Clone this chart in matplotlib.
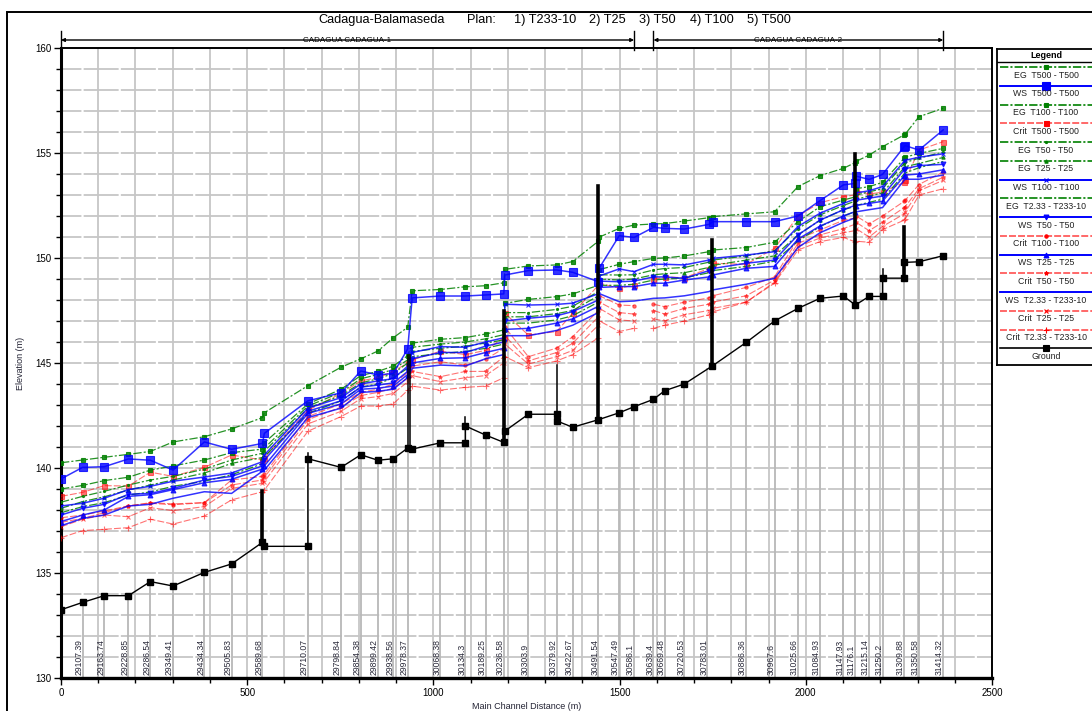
import numpy as np
import matplotlib
matplotlib.use("Agg")
import matplotlib.pyplot as plt
from matplotlib.patches import Rectangle
import matplotlib.transforms as mtransforms

plt.rcParams['font.family'] = ['Liberation Sans', 'DejaVu Sans']
plt.rcParams['lines.scale_dashes'] = False

W, H = 1092, 711

title_parts = ['Cadagua-Balamaseda', 'Plan:', '1) T233-10', '2) T25', '3) T50', '4) T100', '5) T500']
reach_names = ['CADAGUA CADAGUA-1', 'CADAGUA CADAGUA-2']
reach_start = [0, 1591]
reach_end = [1539, 2369]

# main channel distance (m) of every computed point, reach 1 then reach 2
dist = [0, 58, 116, 181, 240, 301, 385, 458, 541, 546, 663, 752, 805, 851, 892, 931, 943,
        1019, 1086, 1140, 1189, 1192, 1255, 1331, 1374, 1443, 1446, 1499, 1539,
        1591, 1621, 1674, 1740, 1750, 1840, 1916, 1979, 2038, 2101, 2131, 2135, 2170, 2206,
        2264, 2267, 2304, 2369]
reach = [1] * 29 + [2] * 18

eg_t500 = [140.25, 140.38, 140.51, 140.65, 140.79, 141.24, 141.49, 141.86, 142.40, 142.63, 143.92, 144.80, 145.20, 145.57, 146.20, 146.70, 148.44,
           148.50, 148.63, 148.68, 148.82, 149.46, 149.62, 149.67, 149.83, 150.80, 151.00, 151.41, 151.57,
           151.62, 151.64, 151.76, 151.92, 151.97, 152.10, 152.20, 153.40, 153.92, 154.27, 154.53, 154.60, 154.90, 155.30, 155.86, 155.90, 156.73, 157.13]
ws_t500 = [139.48, 140.03, 140.06, 140.43, 140.37, 139.90, 141.24, 140.89, 141.17, 141.65, 143.20, 143.58, 144.62, 144.43, 144.50, 145.67, 148.10,
           148.19, 148.19, 148.24, 148.29, 149.19, 149.40, 149.43, 149.32, 148.87, 149.54, 151.06, 150.98,
           151.46, 151.41, 151.38, 151.60, 151.73, 151.73, 151.73, 152.00, 152.73, 153.48, 153.55, 153.90, 153.74, 153.98, 155.30, 155.35, 155.14, 156.10]
eg_t100 = [139.00, 139.17, 139.40, 139.56, 139.90, 140.10, 140.38, 140.73, 140.90, 141.20, 143.05, 143.75, 144.40, 144.60, 144.85, 145.35, 145.95,
           146.13, 146.21, 146.38, 146.57, 147.84, 148.03, 148.16, 148.29, 148.70, 149.45, 149.70, 149.83,
           149.98, 150.00, 150.10, 150.30, 150.38, 150.50, 150.75, 151.73, 152.44, 152.76, 152.90, 153.30, 153.40, 153.60, 154.74, 154.80, 154.98, 155.22]
crit_t500 = [138.65, 138.84, 139.16, 139.14, 139.80, 139.60, 140.03, 140.62, 140.38, 140.50, 142.75, 143.55, 144.15, 144.30, 144.60, 145.00, 145.15,
             145.56, 145.40, 145.60, 146.20, 147.37, 146.33, 146.50, 147.37, 148.70, 148.80, 148.56, 148.71,
             148.98, 149.10, 149.06, 149.50, 149.75, 149.70, 150.46, 152.00, 152.63, 152.92, 153.00, 153.20, 153.05, 153.13, 153.60, 153.70, 155.14, 155.54]
eg_t50 = [138.37, 138.65, 138.89, 139.19, 139.43, 139.60, 139.95, 140.38, 140.70, 140.95, 142.95, 143.60, 144.25, 144.45, 144.70, 145.15, 145.75,
          145.90, 146.00, 146.15, 146.35, 147.40, 147.40, 147.55, 147.70, 148.40, 149.20, 149.19, 149.20,
          149.43, 149.50, 149.55, 149.80, 149.90, 150.10, 150.35, 151.40, 152.05, 152.50, 152.70, 153.00, 153.15, 153.30, 154.50, 154.55, 154.75, 155.05]
eg_t25 = [138.08, 138.40, 138.63, 138.95, 139.19, 139.43, 139.76, 140.22, 140.50, 140.80, 142.85, 143.45, 144.05, 144.25, 144.50, 145.00, 145.55,
          145.70, 145.80, 145.95, 146.10, 147.20, 147.20, 147.35, 147.50, 148.20, 149.00, 148.95, 149.00,
          149.20, 149.25, 149.30, 149.55, 149.65, 149.90, 150.10, 151.10, 151.80, 152.30, 152.45, 152.80, 152.95, 153.10, 154.30, 154.35, 154.50, 154.79]
ws_t100 = [138.19, 138.32, 138.56, 138.97, 139.13, 139.37, 139.57, 139.76, 140.30, 140.62, 142.85, 143.35, 144.00, 144.15, 144.25, 144.85, 145.50,
           145.78, 145.75, 146.00, 146.20, 147.80, 147.76, 147.79, 147.85, 148.30, 149.15, 149.48, 149.35,
           149.70, 149.70, 149.67, 149.90, 149.98, 150.14, 150.30, 151.50, 152.13, 152.60, 152.80, 153.10, 153.20, 153.40, 154.60, 154.65, 154.80, 154.96]
eg_t233 = [137.87, 138.16, 138.35, 138.71, 138.86, 139.13, 139.37, 139.68, 140.20, 140.54, 142.60, 143.20, 143.85, 144.00, 144.30, 144.75, 145.30,
           145.45, 145.55, 145.70, 145.90, 146.90, 146.90, 147.05, 147.25, 147.90, 148.70, 148.70, 148.75,
           148.95, 149.00, 149.05, 149.30, 149.40, 149.60, 149.85, 150.80, 151.50, 152.00, 152.20, 152.50, 152.65, 152.80, 154.00, 154.05, 154.30, 154.60]
ws_t50 = [137.76, 138.08, 138.27, 138.75, 138.79, 139.03, 139.43, 139.60, 140.10, 140.38, 142.70, 143.20, 143.85, 143.95, 144.05, 144.60, 145.20,
          145.50, 145.50, 145.80, 146.00, 147.00, 147.13, 147.25, 147.45, 148.00, 148.90, 148.87, 148.90,
          149.10, 149.10, 149.03, 149.40, 149.50, 149.75, 149.90, 151.10, 151.80, 152.30, 152.50, 152.75, 152.85, 152.95, 154.20, 154.25, 154.40, 154.46]
crit_t100 = [137.63, 137.76, 137.95, 138.20, 138.32, 138.25, 138.35, 139.43, 139.60, 139.70, 142.45, 143.05, 143.60, 143.75, 144.00, 144.55, 144.85,
             145.06, 144.90, 145.17, 145.70, 146.70, 145.30, 145.71, 146.25, 147.50, 148.20, 147.76, 147.73,
             147.80, 147.68, 147.90, 148.10, 148.20, 148.60, 149.10, 150.90, 151.33, 151.80, 151.90, 152.00, 151.62, 152.00, 152.70, 152.75, 153.50, 154.10]
ws_t25 = [137.45, 137.76, 138.00, 138.65, 138.73, 138.97, 139.30, 139.46, 139.95, 140.10, 142.60, 143.05, 143.75, 143.80, 143.90, 144.45, 145.00,
          145.22, 145.25, 145.50, 145.70, 146.60, 146.65, 146.90, 147.10, 147.70, 148.60, 148.64, 148.64,
          148.80, 148.80, 148.95, 149.10, 149.19, 149.51, 149.60, 150.90, 151.52, 152.00, 152.20, 152.50, 152.60, 152.70, 153.90, 153.95, 154.00, 154.20]
crit_t50 = [137.41, 137.60, 137.87, 138.19, 138.35, 138.29, 138.35, 139.19, 139.43, 139.55, 142.30, 142.90, 143.45, 143.60, 143.80, 144.30, 144.60,
            144.35, 144.60, 144.60, 145.30, 146.30, 145.10, 145.50, 145.94, 147.20, 147.90, 147.40, 147.33,
            147.50, 147.33, 147.60, 147.80, 147.90, 148.20, 148.95, 150.70, 151.10, 151.40, 151.60, 151.70, 151.30, 151.70, 152.40, 152.45, 153.30, 153.85]
ws_t233 = [137.25, 137.60, 137.76, 138.19, 138.27, 138.56, 138.87, 138.79, 139.85, 139.90, 142.40, 142.85, 143.60, 143.65, 143.75, 144.30, 144.75,
           144.90, 144.86, 145.20, 145.40, 146.30, 146.30, 146.55, 146.80, 147.40, 148.30, 147.92, 147.95,
           148.08, 148.10, 148.20, 148.40, 148.48, 148.75, 149.03, 150.50, 151.20, 151.70, 151.90, 152.20, 152.30, 152.40, 153.70, 153.75, 153.75, 153.95]
crit_t25 = [137.20, 137.56, 137.76, 137.68, 138.11, 137.97, 138.16, 139.03, 139.27, 139.35, 142.10, 142.70, 143.30, 143.40, 143.55, 144.10, 144.40,
            144.11, 144.30, 144.40, 145.00, 145.90, 144.95, 145.30, 145.60, 146.80, 147.60, 147.05, 147.00,
            147.10, 147.00, 147.30, 147.50, 147.60, 147.90, 148.85, 150.55, 150.95, 151.20, 151.30, 151.40, 151.00, 151.50, 152.10, 152.20, 153.20, 153.70]
crit_t233 = [136.68, 137.02, 137.08, 137.16, 137.56, 137.33, 137.71, 138.48, 138.87, 138.95, 141.75, 142.45, 142.95, 142.95, 143.05, 143.70, 143.90,
             143.71, 143.84, 143.90, 144.30, 145.30, 144.78, 145.10, 145.40, 146.20, 147.00, 146.50, 146.65,
             146.65, 146.80, 147.00, 147.30, 147.43, 147.90, 148.80, 150.38, 150.78, 150.98, 150.78, 150.80, 150.75, 151.35, 151.80, 151.85, 153.00, 153.30]

ground_dist = [0, 58, 116, 181, 240, 301, 385, 458, 541, 546, 663, 663, 752, 805, 851, 892, 931, 943,
               1019, 1086, 1086, 1140, 1189, 1192, 1255, 1331, 1333, 1374, 1443, 1499, 1539,
               1591, 1621, 1674, 1749, 1840, 1916, 1979, 2038, 2101, 2133, 2170, 2206, 2206, 2264, 2264, 2304, 2369]
ground_elev = [133.25, 133.60, 133.92, 133.92, 134.59, 134.38, 135.03, 135.43, 136.46, 136.27, 136.27, 140.44, 140.03, 140.63, 140.37, 140.44, 140.95, 140.90,
               141.20, 141.20, 142.00, 141.57, 141.22, 141.76, 142.56, 142.56, 142.23, 141.94, 142.30, 142.63, 142.92,
               143.27, 143.68, 144.00, 144.86, 145.98, 147.00, 147.60, 148.08, 148.19, 147.76, 148.17, 148.17, 149.04, 149.04, 149.79, 149.82, 150.11]

# structures drawn as vertical bars
struct_dist = [541, 663, 931, 937, 1086, 1189, 1331, 1443, 1749, 2133, 2206, 2264]
struct_low = [136.46, 140.44, 140.95, 140.92, 142.00, 141.22, 142.56, 142.30, 144.86, 147.76, 149.04, 149.04]
struct_high = [138.90, 140.70, 145.40, 145.40, 142.45, 147.50, 144.90, 153.45, 150.86, 154.95, 149.50, 151.49]
struct_kind = ['bridge', 'weir', 'weir', 'weir', 'weir', 'bridge', 'weir', 'bridge', 'bridge', 'bridge', 'weir', 'bridge']

station_names = ['29107.39', '29163.74', '29228.85', '29286.54', '29349.41', '29434.34', '29505.83', '29589.68',
                 '29710.07', '29798.84', '29854.38', '29899.42', '29938.56', '29978.37', '30068.38', '30134.3',
                 '30189.25', '30236.58', '30303.9', '30379.92', '30422.67', '30491.54', '30547.49', '30586.1',
                 '30639.4', '30669.48', '30720.53', '30783.01', '30886.36', '30967.6', '31025.66', '31084.93',
                 '31147.93', '31176.1', '31215.14', '31250.2', '31309.88', '31350.58', '31414.32']
station_dist = [58, 116, 181, 240, 301, 385, 458, 541, 663, 752, 805, 851, 892, 931, 1019, 1086, 1140, 1189,
                1255, 1331, 1374, 1443, 1499, 1539, 1591, 1621, 1674, 1736, 1840, 1916, 1979, 2038, 2101,
                2131, 2170, 2206, 2264, 2304, 2369]

GREEN, BLUE, RED = '#008000', '#0000ff', '#ff0000'
style = {
    'EG': dict(color=GREEN, lw=0.9, ls=(0, (6, 1.5, 1.5, 1.5)), alpha=0.85, z=4),
    'WS': dict(color=BLUE, lw=1.1, ls='-', alpha=0.8, z=5),
    'Crit': dict(color=RED, lw=0.8, ls=(0, (5, 1.5)), alpha=0.55, z=3),
}

series = [
    ('EG  T500 - T500', eg_t500, 'EG', 's', 3.2),
    ('WS  T500 - T500', ws_t500, 'WS', 's', 5.5),
    ('EG  T100 - T100', eg_t100, 'EG', 's', 2.2),
    ('Crit  T500 - T500', crit_t500, 'Crit', 's', 3.6),
    ('EG  T50 - T50', eg_t50, 'EG', '.', 3.0),
    ('EG  T25 - T25', eg_t25, 'EG', '^', 2.4),
    ('WS  T100 - T100', ws_t100, 'WS', 'x', 3.5),
    ('EG  T2.33 - T233-10', eg_t233, 'EG', None, 0),
    ('WS  T50 - T50', ws_t50, 'WS', 'v', 3.5),
    ('Crit  T100 - T100', crit_t100, 'Crit', 'o', 2.4),
    ('WS  T25 - T25', ws_t25, 'WS', '^', 3.5),
    ('Crit  T50 - T50', crit_t50, 'Crit', '*', 3.0),
    ('WS  T2.33 - T233-10', ws_t233, 'WS', None, 0),
    ('Crit  T25 - T25', crit_t25, 'Crit', 'x', 2.6),
    ('Crit  T2.33 - T233-10', crit_t233, 'Crit', '+', 4.0),
]

fig = plt.figure(figsize=(W / 100, H / 100), dpi=100)
ax = fig.add_axes([61 / W, 1 - 678 / H, 931 / W, 630 / H])
ax.set_xlim(0, 2500)
ax.set_ylim(130, 160)

# grid
for gx in range(100, 2500, 100):
    ax.axvline(gx, color='#c6c6c6', lw=1.3, zorder=1)
for gy in range(131, 160):
    ax.axhline(gy, color='#c6c6c6', lw=1.3, ls=(10.5, (25.2, 1.6)), zorder=1)

# station lines and labels
d_all = np.array(dist, dtype=float)
for name, sd in zip(station_names, station_dist):
    gtop = np.interp(sd, ground_dist, ground_elev)
    ax.plot([sd, sd], [130, gtop], color='#b8b8b8', lw=1.3, zorder=1.5)
    ax.annotate(name, (sd, 130), xytext=(-2.6, 2.4), textcoords='offset points',
                rotation=90, ha='center', va='bottom', fontsize=6.2, color='#2a2a3a', zorder=2)

# profiles
r1 = np.array(reach) == 1
for text, vals, kind, mk, ms in series:
    v = np.array(vals, dtype=float)
    st = style[kind]
    kw = dict(color=st['color'], lw=st['lw'], ls=st['ls'], alpha=st['alpha'], zorder=st['z'],
              marker=mk, ms=ms, mew=0.8)
    if kind == 'Crit':
        for m in (r1, ~r1):
            ax.plot(d_all[m], v[m], **kw)
    else:
        ax.plot(d_all, v, **kw)

# ground and structures
ax.plot(ground_dist, ground_elev, color='black', lw=1.0, marker='s', ms=4.3, zorder=6)
for sd, lo, hi, kind in zip(struct_dist, struct_low, struct_high, struct_kind):
    ax.plot([sd, sd], [lo, hi], color='black', lw=2.6 if kind == 'bridge' else 1.1, zorder=6)

# axes styling
ax.set_xticks(range(0, 2501, 500))
ax.set_xticks(range(0, 2501, 100), minor=True)
ax.set_yticks(range(130, 161, 5))
ax.set_yticks(range(130, 161, 1), minor=True)
ax.tick_params(which='major', direction='out', length=5, width=1, labelsize=7, pad=2, colors='black')
ax.tick_params(which='minor', direction='out', length=3.5, width=1)
for sp in ax.spines.values():
    sp.set_linewidth(1.4)
ax.spines['left'].set_linewidth(2.2)
ax.spines['bottom'].set_linewidth(2.4)
ax.set_xlabel('Main Channel Distance (m)', fontsize=6.5, labelpad=3, color='#222233')
ax.set_ylabel('Elevation (m)', fontsize=6.5, labelpad=7, color='#222233')

# title
title_x = [318, 467, 514, 589, 639, 690, 747]
for tx, part in zip(title_x, title_parts):
    fig.text(tx / W, 1 - 20 / H, part, ha='left', va='center', fontsize=9.2)

# reach annotations above the plot
trans = mtransforms.blended_transform_factory(ax.transData, fig.transFigure)
y_r = 1 - 40 / H
for name, a, b in zip(reach_names, reach_start, reach_end):
    ax.annotate('', xy=(a, y_r), xytext=(b, y_r), xycoords=trans, textcoords=trans,
                arrowprops=dict(arrowstyle='<|-|>', lw=1.0, color='black', mutation_scale=5,
                                shrinkA=0, shrinkB=0), annotation_clip=False)
    for e in (a, b):
        ax.plot([e, e], [1 - 31 / H, 1 - 50 / H], transform=trans, color='black', lw=1.0, clip_on=False)
    ax.text((a + b) / 2, y_r, name, transform=trans, ha='center', va='center', fontsize=5.8, clip_on=False)

# outer frame
fig.add_artist(Rectangle((7 / W, -0.1), 1.2, 1 - 12 / H + 0.1, transform=fig.transFigure,
                         fill=False, lw=1.4, edgecolor='black'))

# legend box
lax = fig.add_axes([997 / W, 1 - 365 / H, (W + 4 - 997) / W, (365 - 49) / H])
lax.set_xlim(997, W + 4)
lax.set_ylim(365, 49)
lax.set_xticks([])
lax.set_yticks([])
for sp in lax.spines.values():
    sp.set_linewidth(1.3)
lax.text(1046, 55, 'Legend', ha='center', va='center', fontsize=6.5, fontweight='bold')
lax.axhline(61.5, color='black', lw=1.0)
entries = list(series) + [('Ground', None, 'Ground', 's', 4.3)]
for i, (text, vals, kind, mk, ms) in enumerate(entries):
    y = 67 + 18.75 * i
    if kind == 'Ground':
        c, lw, ls, al = 'black', 1.2, '-', 1
    else:
        st = style[kind]
        c, lw, ls, al = st['color'], st['lw'] + 0.3, st['ls'], min(1, st['alpha'] + 0.2)
    lax.plot([1000, W + 4], [y, y], color=c, lw=lw, ls=ls, alpha=al)
    if mk:
        lax.plot([1046], [y], marker=mk, ms=ms, color=c, mew=0.8)
    lax.text(1046, y + 8.2, text, ha='center', va='center', fontsize=6.3, color='#222222')

fig.savefig('out.png', dpi=100)
